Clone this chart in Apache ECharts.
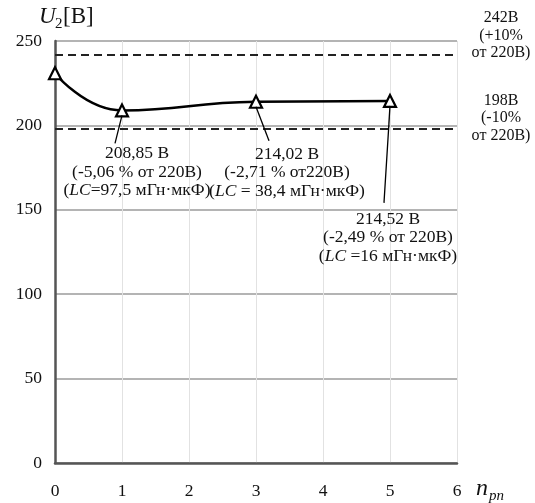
<!DOCTYPE html>
<html><head><meta charset="utf-8">
<script src="https://cdn.jsdelivr.net/npm/echarts@6/dist/echarts.min.js"></script>
<style>html,body{margin:0;padding:0;background:#fff}#c{width:535px;height:503px}</style>
</head><body><div id="c"></div>
<script>
const xValues = [0, 1, 3, 5];
const yValues = [230.9, 208.85, 214.02, 214.52];
const xTicks = [0, 1, 2, 3, 4, 5, 6];
const yTicks = [0, 50, 100, 150, 200, 250];
const limitValues = [242, 198];
const limitLabels = [['242В', '(+10%', 'от 220В)'], ['198В', '(-10%', 'от 220В)']];
const annotations = [
  { idx: 1, lines: ['208,85 В', '(-5,06 % от 220В)', '({i|LC}=97,5 мГн·мкФ)'] },
  { idx: 2, lines: ['214,02 В', '(-2,71 % от220В)', '({i|LC} = 38,4 мГн·мкФ)'] },
  { idx: 3, lines: ['214,52 В', '(-2,49 % от 220В)', '({i|LC} =16 мГн·мкФ)'] }
];
// layout offsets (pixels) for annotation text and leader line ends, relative to point
const annLayout = [
  { tx: 15, ty: 34, lx: -7, ly: 33 },
  { tx: 31, ty: 43, lx: 13, ly: 39 },
  { tx: -2, ty: 109, lx: -6, ly: 102 }
];
const FONT = '"Liberation Serif", "Times New Roman", serif';
const chart = echarts.init(document.getElementById('c'), null, { renderer: 'canvas' });
const data = xValues.map((x, i) => [x, yValues[i]]);
chart.setOption({
  animation: false,
  grid: { left: 55, right: 78, top: 41, bottom: 40, containLabel: false },
  xAxis: {
    type: 'value', min: xTicks[0], max: xTicks[xTicks.length - 1], interval: 1,
    axisLine: { onZero: false, lineStyle: { color: '#555', width: 2.5 } },
    axisTick: { show: false },
    axisLabel: { margin: 19, color: '#111', fontFamily: FONT, fontSize: 17.5 },
    splitLine: { show: true, lineStyle: { color: '#e2e2e2', width: 1 } }
  },
  yAxis: {
    type: 'value', min: yTicks[0], max: yTicks[yTicks.length - 1], interval: 50,
    axisLine: { show: true, lineStyle: { color: '#555', width: 2.5 } },
    axisTick: { show: false },
    axisLabel: { margin: 13, color: '#111', fontFamily: FONT, fontSize: 17.5 },
    splitLine: { show: true, lineStyle: { color: '#b4b4b4', width: 2 } }
  },
  series: [{
    type: 'line', data: data, smooth: 0.5,
    symbol: 'triangle', symbolSize: 12,
    lineStyle: { color: '#000', width: 2.5 },
    itemStyle: { color: '#fff', borderColor: '#000', borderWidth: 2.2 },
    z: 5,
    markLine: {
      silent: true, symbol: 'none', label: { show: false },
      lineStyle: { color: '#222', width: 2, type: [8, 5] },
      data: limitValues.map(v => [{ coord: [0, v] }, { coord: [6, v] }])
    }
  }]
});

function build() {
  const g = [];
  annotations.forEach((a, k) => {
    const p = chart.convertToPixel({ seriesIndex: 0 }, data[a.idx]);
    const L = annLayout[k];
    g.push({ type: 'line', z: 10, shape: { x1: p[0], y1: p[1] + 5, x2: p[0] + L.lx, y2: p[1] + L.ly },
      style: { stroke: '#000', lineWidth: 1.3 } });
    g.push({ type: 'text', z: 10, x: p[0] + L.tx, y: p[1] + L.ty,
      style: { text: a.lines.join('\n'), align: 'center', verticalAlign: 'top',
        font: '17.5px ' + FONT, fill: '#111', lineHeight: 18.5,
        rich: { i: { fontStyle: 'italic', fontFamily: FONT, fontSize: 17.5, fill: '#111', lineHeight: 18.5 } } } });
  });
  limitValues.forEach((v, k) => {
    const p = chart.convertToPixel({ seriesIndex: 0 }, [6, v]);
    g.push({ type: 'text', x: 501, y: p[1] - 45 + (k === 1 ? 8 : 0),
      style: { text: limitLabels[k].join('\n'), align: 'center', verticalAlign: 'top',
        font: '16px ' + FONT, fill: '#111', lineHeight: 17.5 } });
  });
  // y axis name U2[В]
  g.push({ type: 'text', x: 39, y: 5, style: { text: 'U', font: 'italic 23px ' + FONT, fill: '#111' } });
  g.push({ type: 'text', x: 55, y: 17, style: { text: '2', font: '15px ' + FONT, fill: '#111' } });
  g.push({ type: 'text', x: 63, y: 5, style: { text: '[В]', font: '23px ' + FONT, fill: '#111' } });
  // x axis name n_pn
  g.push({ type: 'text', x: 476, y: 477, style: { text: 'n', font: 'italic 24px ' + FONT, fill: '#111' } });
  g.push({ type: 'text', x: 489, y: 489, style: { text: 'pn', font: 'italic 15px ' + FONT, fill: '#111' } });
  chart.setOption({ graphic: g });
}
build();
</script></body></html>
